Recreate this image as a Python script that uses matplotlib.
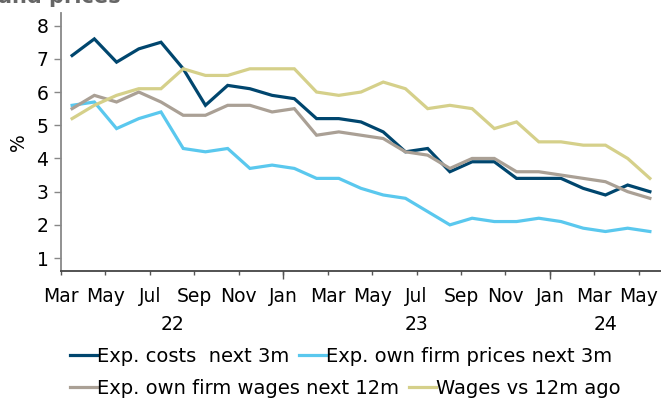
import matplotlib
matplotlib.use("Agg")
import matplotlib.pyplot as plt
import matplotlib.transforms as mtransforms
import numpy as np

# monthly survey balances, Mar 2022 - May 2024
months = ["Mar", "Apr", "May", "Jun", "Jul", "Aug", "Sep", "Oct", "Nov", "Dec",
          "Jan", "Feb", "Mar", "Apr", "May", "Jun", "Jul", "Aug", "Sep", "Oct", "Nov", "Dec",
          "Jan", "Feb", "Mar", "Apr", "May"]
years = ["22", "23", "24"]
year_start = [0, 10, 22]

exp_costs = [7.1, 7.6, 6.9, 7.3, 7.5, 6.7, 5.6, 6.2, 6.1, 5.9, 5.8, 5.2, 5.2, 5.1,
             4.8, 4.2, 4.3, 3.6, 3.9, 3.9, 3.4, 3.4, 3.4, 3.1, 2.9, 3.2, 3.0]
exp_prices = [5.6, 5.7, 4.9, 5.2, 5.4, 4.3, 4.2, 4.3, 3.7, 3.8, 3.7, 3.4, 3.4, 3.1,
              2.9, 2.8, 2.4, 2.0, 2.2, 2.1, 2.1, 2.2, 2.1, 1.9, 1.8, 1.9, 1.8]
exp_wages = [5.5, 5.9, 5.7, 6.0, 5.7, 5.3, 5.3, 5.6, 5.6, 5.4, 5.5, 4.7, 4.8, 4.7,
             4.6, 4.2, 4.1, 3.7, 4.0, 4.0, 3.6, 3.6, 3.5, 3.4, 3.3, 3.0, 2.8]
wages_12m = [5.2, 5.6, 5.9, 6.1, 6.1, 6.7, 6.5, 6.5, 6.7, 6.7, 6.7, 6.0, 5.9, 6.0,
             6.3, 6.1, 5.5, 5.6, 5.5, 4.9, 5.1, 4.5, 4.5, 4.4, 4.4, 4.0, 3.4]

labels = ["Exp. costs  next 3m", "Exp. own firm prices next 3m",
          "Exp. own firm wages next 12m", "Wages vs 12m ago"]
colors = ["#00466e", "#5ac8ee", "#aaa095", "#d5d08a"]

FS = 13.5
plt.rcParams['font.family'] = ['DejaVu Sans']
plt.rcParams['font.size'] = FS

fig = plt.figure(figsize=(6.61, 4.0), dpi=100)
ax = fig.add_axes([61 / 661, 1 - 270.7 / 400, 600 / 661, 257.7 / 400])

x = np.arange(len(months)) + 0.5
lines = []
for series, col, lab in zip([exp_costs, exp_prices, exp_wages, wages_12m], colors, labels):
    ln, = ax.plot(x, series, color=col, lw=2.3, label=lab, solid_joinstyle='miter')
    lines.append(ln)

ax.set_xlim(0, len(months))
ax.set_ylim(0.62, 8.38)
ax.set_yticks(range(1, 9))

# month labels every 2 months, longer ticks at year boundaries
ax.set_xticks(range(0, len(months), 2))
ax.set_xticklabels(months[::2])
ax.xaxis.remove_overlapping_locs = False
ax.set_xticks(year_start[1:], minor=True)
ax.tick_params(axis='x', which='major', length=3, width=1, color='#555555', pad=9)
ax.tick_params(axis='x', which='minor', length=6, width=1, color='#555555')
ax.tick_params(axis='y', length=5, width=1, color='#888888', pad=4)

trans = mtransforms.blended_transform_factory(ax.transData, ax.transAxes)
bounds = year_start + [len(months)]
for i, yr in enumerate(years):
    ax.text((bounds[i] + bounds[i + 1]) / 2, -0.21, yr, transform=trans,
            ha='center', va='center', fontsize=FS)

for s in ['top', 'right']:
    ax.spines[s].set_visible(False)
ax.spines['left'].set_color('#888888')
ax.spines['left'].set_linewidth(1.3)
ax.spines['bottom'].set_color('#444444')
ax.spines['bottom'].set_linewidth(1.3)

ax.set_ylabel('%', fontsize=FS, labelpad=6)

# cut-off title remnant at the top (the reference image is cropped there)
fig.text(-0.003, 1 - 3 / 400, "and prices", fontsize=15, fontweight='bold',
         color='#666666', va='baseline', ha='left')

leg_kw = dict(frameon=False, ncol=2, handlelength=1.4, handletextpad=0.0,
              columnspacing=0.5, borderpad=0, borderaxespad=0, fontsize=14)
fig.legend(handles=lines[:2], loc='center left',
           bbox_to_anchor=(70 / 661, 1 - 356 / 400), **leg_kw)
fig.legend(handles=lines[2:], loc='center left',
           bbox_to_anchor=(70 / 661, 1 - 388 / 400), **leg_kw)

fig.savefig('out.png', dpi=100)
